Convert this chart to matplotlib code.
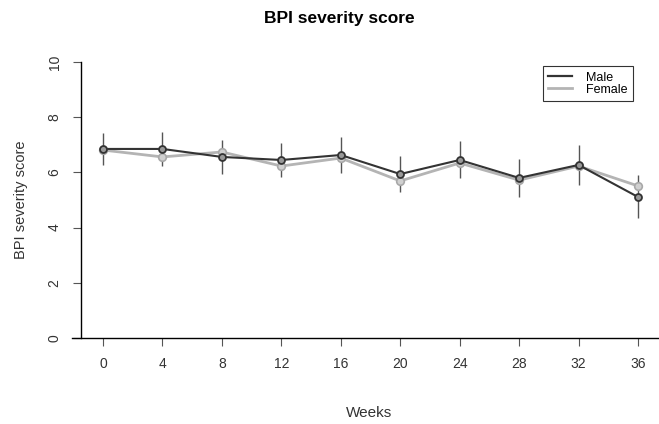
import matplotlib
matplotlib.use("Agg")
import matplotlib.pyplot as plt
from matplotlib.lines import Line2D

plt.rcParams['font.family'] = ['Liberation Sans', 'DejaVu Sans']

weeks = [0, 4, 8, 12, 16, 20, 24, 28, 32, 36]
male = [6.85, 6.85, 6.56, 6.45, 6.63, 5.94, 6.45, 5.80, 6.27, 5.11]
female = [6.81, 6.56, 6.74, 6.23, 6.52, 5.69, 6.34, 5.72, 6.23, 5.51]
male_err = [0.58, 0.62, 0.60, 0.62, 0.65, 0.65, 0.67, 0.70, 0.72, 0.78]

W, H = 659, 424
fig = plt.figure(figsize=(W / 100, H / 100), dpi=100)
ax = fig.add_axes([81 / W, 1 - 338 / H, (658 - 81) / W, (338 - 62) / H])

ax.errorbar(weeks, male, yerr=male_err, fmt='none', ecolor='#555555', elinewidth=1, capsize=0, zorder=2)
ax.plot(weeks, female, color='#b4b4b4', lw=2, marker='o', ms=5.5, mfc='#d0d0d0', mec='#a8a8a8', mew=1.2, zorder=3)
ax.plot(weeks, male, color='#333333', lw=1.5, marker='o', ms=5, mfc='#999999', mec='#333333', mew=1.3, zorder=4)

ax.set_xlim(-22 / 14.86, 36 + 20 / 14.86)
ax.set_ylim(0, 10)
ax.set_xticks(weeks)
ax.set_yticks([0, 2, 4, 6, 8, 10])
ax.tick_params(axis='both', labelsize=10, length=6, color='#555555', labelcolor='#333333', pad=8)
for lab in ax.get_yticklabels():
    lab.set_rotation(90)
    lab.set_va('center')
ax.spines['top'].set_visible(False)
ax.spines['right'].set_visible(False)
ax.spines['bottom'].set_visible(False)
ax.spines['left'].set_linewidth(1)
ax.add_line(Line2D([-0.016, 1.0], [0, 0], transform=ax.transAxes, color='black', lw=1, clip_on=False))

ax.set_xlabel('Weeks', fontsize=11, color='#333333', labelpad=25)
ax.set_ylabel('BPI severity score', fontsize=10.5, color='#333333', labelpad=14)
fig.text(0.5 + 10 / W, 1 - 18 / H, 'BPI severity score', ha='center', va='center', fontsize=12.5, fontweight='bold')

handles = [Line2D([], [], color='#333333', lw=1.6), Line2D([], [], color='#b4b4b4', lw=2)]
leg = ax.legend(handles, ['Male', 'Female'], loc='upper right', bbox_to_anchor=(633 / W, 1 - 66 / H),
                bbox_transform=fig.transFigure,
                fontsize=9, frameon=True, fancybox=False, edgecolor='black', handlelength=1.9,
                labelspacing=0.0, borderpad=0.45, handletextpad=1.1, borderaxespad=0)
leg.get_frame().set_linewidth(0.8)

fig.savefig('out.png', dpi=100)
